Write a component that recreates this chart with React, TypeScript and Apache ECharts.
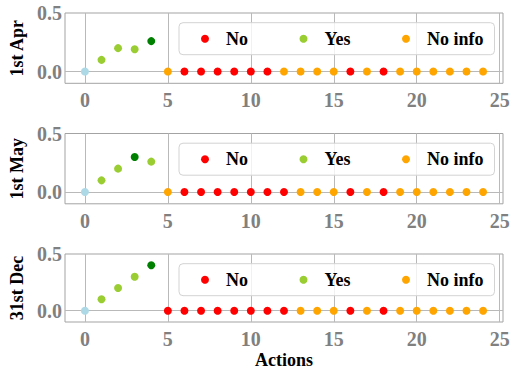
import { useEffect, useRef } from "react";
import * as echarts from "echarts";

// Action index along the x axis
const actions = [0, 1, 2, 3, 4, 5, 6, 7, 8, 9, 10, 11, 12, 13, 14, 15, 16, 17, 18, 19, 20, 21, 22, 23, 24];

// Panel titles (y-axis names)
const panelNames = ["1st Apr", "1st May", "31st Dec"];

// Values per action for each date
const aprValues = [0, 0.1, 0.2, 0.19, 0.26, 0, 0, 0, 0, 0, 0, 0, 0, 0, 0, 0, 0, 0, 0, 0, 0, 0, 0, 0, 0];
const mayValues = [0, 0.1, 0.2, 0.3, 0.26, 0, 0, 0, 0, 0, 0, 0, 0, 0, 0, 0, 0, 0, 0, 0, 0, 0, 0, 0, 0];
const decValues = [0, 0.1, 0.2, 0.3, 0.4, 0, 0, 0, 0, 0, 0, 0, 0, 0, 0, 0, 0, 0, 0, 0, 0, 0, 0, 0, 0];

// Outcome of each action for each date
const aprOutcome = [
  "start", "yes", "yes", "yes", "best",
  "noinfo", "no", "no", "no", "no", "no", "no",
  "noinfo", "noinfo", "noinfo", "noinfo", "no", "noinfo", "no",
  "noinfo", "noinfo", "noinfo", "noinfo", "noinfo", "noinfo",
];
const mayOutcome = [
  "start", "yes", "yes", "best", "yes",
  "noinfo", "no", "no", "no", "no", "no", "no", "no",
  "noinfo", "noinfo", "noinfo", "no", "noinfo", "no",
  "noinfo", "noinfo", "noinfo", "noinfo", "noinfo", "noinfo",
];
const decOutcome = [
  "start", "yes", "yes", "yes", "best",
  "no", "no", "no", "no", "no", "no", "no", "no",
  "noinfo", "noinfo", "noinfo", "no", "noinfo", "no",
  "noinfo", "noinfo", "noinfo", "noinfo", "noinfo", "noinfo",
];

const panelValues = [aprValues, mayValues, decValues];
const panelOutcomes = [aprOutcome, mayOutcome, decOutcome];

// Outcome classes, their legend names and colours
const outcomeKeys = ["no", "yes", "noinfo", "start", "best"];
const outcomeNames = ["No", "Yes", "No info", "Start", "Best"];
const outcomeColors = ["#ff0000", "#9acd32", "#ffa500", "#add8e6", "#008000"];
const legendNames = ["No", "Yes", "No info"];

const FONT = "'Liberation Serif', 'Times New Roman', serif";
const FRAME = "#a3a3a3";
const GRID_LINE = "#b9b9b9";
const TICK_TEXT = "#808080";

const gridTops = [13, 133.5, 254];
const gridHeight = 70.3;

export default function App() {
  const ref = useRef<HTMLDivElement>(null);

  useEffect(() => {
    if (!ref.current) return;
    const chart = echarts.init(ref.current, null, { renderer: "svg" });

    const grid = gridTops.map((top) => ({
      left: 65,
      top,
      width: 438,
      height: gridHeight,
      show: true,
      borderColor: FRAME,
      borderWidth: 1,
      backgroundColor: "transparent",
    }));

    const xAxis = gridTops.map((_, i) => ({
      type: "value",
      gridIndex: i,
      min: -1.2,
      max: 25.2,
      splitNumber: 5,
      name: i === 2 ? "Actions" : "",
      nameLocation: "middle",
      nameGap: 29,
      nameTextStyle: { fontFamily: FONT, fontSize: 18, fontWeight: "bold", color: "#000" },
      axisLine: { show: false },
      axisTick: { show: false },
      axisLabel: {
        margin: 7,
        fontFamily: FONT,
        fontSize: 20,
        fontWeight: "bold",
        color: TICK_TEXT,
        formatter: (v: number) => (v >= 0 && Math.abs(v % 5) < 1e-9 ? String(Math.round(v)) : ""),
      },
      splitLine: {
        show: true,
        showMinLine: false,
        showMaxLine: false,
        lineStyle: { color: GRID_LINE, width: 1 },
      },
    }));

    const yAxis = gridTops.map((_, i) => ({
      type: "value",
      gridIndex: i,
      min: -0.1,
      max: 0.5,
      name: panelNames[i],
      nameLocation: "middle",
      nameGap: 33,
      nameTextStyle: { fontFamily: FONT, fontSize: 18, fontWeight: "bold", color: "#000" },
      axisLine: { show: false },
      axisTick: { show: false },
      splitLine: { show: false },
      axisLabel: {
        margin: 3,
        fontFamily: FONT,
        fontSize: 20,
        fontWeight: "bold",
        color: TICK_TEXT,
        formatter: (v: number) =>
          Math.abs(v) < 1e-9 ? "0.0" : Math.abs(v - 0.5) < 1e-9 ? "0.5" : "",
      },
    }));

    const series: any[] = [];
    panelValues.forEach((values, p) => {
      const outcomes = panelOutcomes[p];
      outcomeKeys.forEach((key, k) => {
        const data = actions
          .filter((_, idx) => outcomes[idx] === key)
          .map((a) => [a, values[a]]);
        const s: any = {
          type: "scatter",
          name: outcomeNames[k],
          xAxisIndex: p,
          yAxisIndex: p,
          data,
          symbol: "circle",
          symbolSize: 8,
          z: 10,
          itemStyle: { color: outcomeColors[k], opacity: 1 },
          emphasis: { disabled: true },
        };
        if (key === "start") {
          // horizontal grid line at zero
          s.markLine = {
            silent: true,
            symbol: "none",
            label: { show: false },
            lineStyle: { color: GRID_LINE, width: 1, type: "solid" },
            data: [{ yAxis: 0 }],
          };
        }
        series.push(s);
      });
    });

    const legend = gridTops.map((top) => ({
      data: legendNames,
      left: 179,
      top: top + 9.7,
      orient: "horizontal",
      icon: "circle",
      itemWidth: 32,
      itemHeight: 8,
      itemGap: 51.5,
      padding: [7, 11, 7, 22],
      backgroundColor: "rgba(255,255,255,0.8)",
      borderColor: "#d3d3d3",
      borderWidth: 1,
      borderRadius: 4,
      selectedMode: false,
      textStyle: { fontFamily: FONT, fontSize: 18, fontWeight: "bold", color: "#000" },
    }));

    chart.setOption({
      animation: false,
      backgroundColor: "#ffffff",
      grid,
      xAxis,
      yAxis,
      legend,
      series,
    });

    return () => chart.dispose();
  }, []);

  return (
    <div
      ref={ref}
      style={{ position: "fixed", left: 0, top: 0, width: 513, height: 370 }}
    />
  );
}
